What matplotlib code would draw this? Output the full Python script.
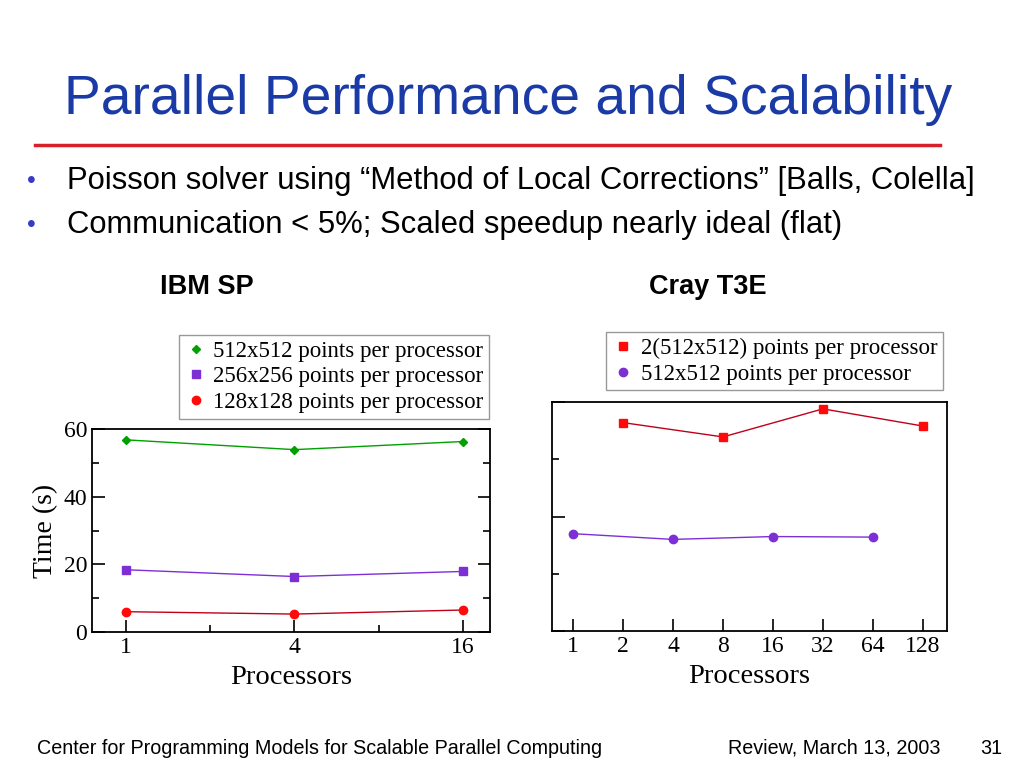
import matplotlib
matplotlib.use("Agg")
import matplotlib.pyplot as plt
from matplotlib.ticker import FixedLocator, FixedFormatter, NullLocator, NullFormatter

# IBM SP data
ibm_procs = [1, 4, 16]
ibm_512 = [56.8, 53.9, 56.3]
ibm_256 = [18.4, 16.4, 17.9]
ibm_128 = [6.0, 5.3, 6.5]

# Cray T3E data
cray_procs_2x = [2, 8, 32, 128]
cray_2x512 = [36.4, 33.9, 38.8, 35.8]
cray_procs_512 = [1, 4, 16, 64]
cray_512 = [17.0, 16.0, 16.5, 16.4]
cray_ticks = [1, 2, 4, 8, 16, 32, 64, 128]

W, H = 1024, 768
fig = plt.figure(figsize=(10.24, 7.68), dpi=100)
fig.patch.set_facecolor("white")

def fx(px):
    return px / W

def fy(py):
    return 1 - py / H

sans = ["Liberation Sans", "DejaVu Sans"]
serif = ["Liberation Serif", "DejaVu Serif"]
narrow = ["Liberation Sans Narrow", "Liberation Sans", "DejaVu Sans"]

# slide title and rule
fig.text(fx(508), fy(100), "Parallel Performance and Scalability", family=sans,
         fontsize=39.8, color="#1a3aa6", ha="center", va="center")
fig.add_artist(plt.Line2D([fx(35), fx(940)], [fy(145), fy(145)], color="#d8202a", lw=2.5))

bullets = ["Poisson solver using \u201cMethod of Local Corrections\u201d [Balls, Colella]",
           "Communication < 5%; Scaled speedup nearly ideal (flat)"]
for i, b in enumerate(bullets):
    y = 181 + i * 44
    fig.text(fx(31), fy(y), "\u2022", family=sans, fontsize=18, color="#3a3ac8", ha="center", va="center")
    fig.text(fx(67), fy(y), b, family=sans, fontsize=22.3, color="black", ha="left", va="center")

fig.text(fx(207), fy(287), "IBM SP", family=narrow, fontsize=19.5, fontweight="bold", ha="center", va="center")
fig.text(fx(708), fy(287), "Cray T3E", family=narrow, fontsize=19.5, fontweight="bold", ha="center", va="center")

# footer
fig.text(fx(37), fy(748), "Center for Programming Models for Scalable Parallel Computing",
         family=narrow, fontsize=14.2, ha="left", va="center")
fig.text(fx(940), fy(748), "Review, March 13, 2003", family=narrow, fontsize=14.2, ha="right", va="center")
fig.text(fx(1002), fy(748), "31", family=narrow, fontsize=14.2, ha="right", va="center")

green = "#00a000"
purple = "#7d2fd6"
red = "#ff0a0a"
darkred = "#c0001a"

def style_axes(ax):
    for s in ax.spines.values():
        s.set_linewidth(1.3)
    ax.tick_params(direction="in", which="both", right=True, top=False,
                   labelsize=17, width=1.2)
    ax.tick_params(which="major", length=9)
    ax.tick_params(which="minor", length=5)
    for lab in ax.get_xticklabels() + ax.get_yticklabels():
        lab.set_family(serif)

legend_kw = dict(loc="upper right", bbox_transform=fig.transFigure, borderaxespad=0,
                 fancybox=False, edgecolor="#808080", prop={"family": serif, "size": 16.5},
                 handletextpad=0.25, handlelength=1.0, labelspacing=0.2, borderpad=0.25)

# left chart
ax1 = fig.add_axes([fx(92), fy(632), fx(490 - 92), (632 - 429) / H])
ax1.set_xscale("log", base=2)
ax1.set_xlim(2 ** -0.4, 2 ** 4.32)
ax1.set_ylim(0, 60)
ax1.plot(ibm_procs, ibm_512, color=green, lw=1)
ax1.plot(ibm_procs, ibm_512, "D", color=green, ms=4.5, ls="none", label="512x512 points per processor")
ax1.plot(ibm_procs, ibm_256, color=purple, lw=1)
ax1.plot(ibm_procs, ibm_256, "s", color=purple, ms=6, ls="none", label="256x256 points per processor")
ax1.plot(ibm_procs, ibm_128, color=darkred, lw=1)
ax1.plot(ibm_procs, ibm_128, "o", color=red, ms=6, ls="none", label="128x128 points per processor")
ax1.xaxis.set_major_locator(FixedLocator(ibm_procs))
ax1.xaxis.set_major_formatter(FixedFormatter([str(p) for p in ibm_procs]))
ax1.xaxis.set_minor_locator(FixedLocator([2, 8]))
ax1.xaxis.set_minor_formatter(NullFormatter())
ax1.set_yticks([0, 20, 40, 60])
ax1.set_yticks([10, 30, 50], minor=True)
style_axes(ax1)
ax1.set_xlabel("Processors", family=serif, fontsize=20.5, labelpad=5)
ax1.set_ylabel("Time (s)", family=serif, fontsize=20, labelpad=4)
leg1 = ax1.legend(bbox_to_anchor=(fx(489), fy(335)), **legend_kw)
leg1.get_frame().set_linewidth(1)

# right chart
ax2 = fig.add_axes([fx(552), fy(631), fx(947 - 552), (631 - 402) / H])
ax2.set_xscale("log", base=2)
ax2.set_xlim(2 ** -0.42, 2 ** 7.48)
ax2.set_ylim(0, 40)
ax2.plot(cray_procs_2x, cray_2x512, color=darkred, lw=1)
ax2.plot(cray_procs_2x, cray_2x512, "s", color=red, ms=5.5, ls="none", label="2(512x512) points per processor")
ax2.plot(cray_procs_512, cray_512, color=purple, lw=1)
ax2.plot(cray_procs_512, cray_512, "o", color=purple, ms=6, ls="none", label="512x512 points per processor")
ax2.xaxis.set_major_locator(FixedLocator(cray_ticks))
ax2.xaxis.set_major_formatter(FixedFormatter([str(p) for p in cray_ticks]))
ax2.xaxis.set_minor_locator(NullLocator())
ax2.set_yticks([0, 20, 40])
ax2.set_yticks([10, 30], minor=True)
style_axes(ax2)
ax2.tick_params(axis="y", which="both", right=False, labelleft=False)
ax2.set_xlabel("Processors", family=serif, fontsize=20.5, labelpad=5)
leg2 = ax2.legend(bbox_to_anchor=(fx(943), fy(332)), **legend_kw)
leg2.get_frame().set_linewidth(1)

fig.savefig("out.png", dpi=100)
